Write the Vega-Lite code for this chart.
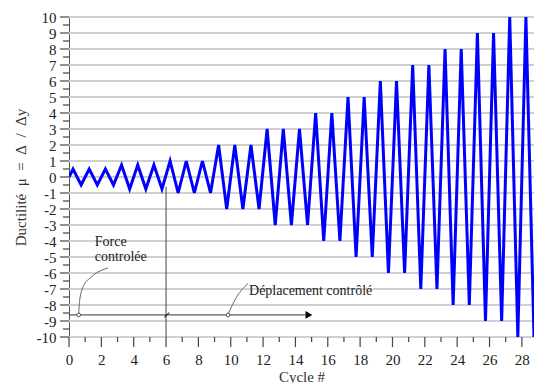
{
  "$schema": "https://vega.github.io/schema/vega-lite/v6.json",
  "width": 465,
  "height": 320,
  "autosize": {"type": "none"},
  "padding": {"left": 69, "top": 17, "right": 0, "bottom": 46},
  "background": "white",
  "config": {
    "view": {"stroke": null},
    "font": "Liberation Serif",
    "axis": {
      "labelFont": "Liberation Serif",
      "titleFont": "Liberation Serif",
      "labelFontSize": 15,
      "titleFontSize": 15,
      "titleFontWeight": "normal",
      "labelColor": "#222",
      "titleColor": "#333"
    }
  },
  "resolve": {"axis": {"x": "independent", "y": "independent"}},
  "datasets": {
    "protocol": [
      {"cycle": 0, "mu": 0},
      {"cycle": 0.25, "mu": 0.5}, {"cycle": 0.75, "mu": -0.5},
      {"cycle": 1.25, "mu": 0.5}, {"cycle": 1.75, "mu": -0.5},
      {"cycle": 2.25, "mu": 0.5}, {"cycle": 2.75, "mu": -0.5},
      {"cycle": 3.25, "mu": 0.75}, {"cycle": 3.75, "mu": -0.75},
      {"cycle": 4.25, "mu": 0.75}, {"cycle": 4.75, "mu": -0.75},
      {"cycle": 5.25, "mu": 0.75}, {"cycle": 5.75, "mu": -0.75},
      {"cycle": 6.25, "mu": 1}, {"cycle": 6.75, "mu": -1},
      {"cycle": 7.25, "mu": 1}, {"cycle": 7.75, "mu": -1},
      {"cycle": 8.25, "mu": 1}, {"cycle": 8.75, "mu": -1},
      {"cycle": 9.25, "mu": 2}, {"cycle": 9.75, "mu": -2},
      {"cycle": 10.25, "mu": 2}, {"cycle": 10.75, "mu": -2},
      {"cycle": 11.25, "mu": 2}, {"cycle": 11.75, "mu": -2},
      {"cycle": 12.25, "mu": 3}, {"cycle": 12.75, "mu": -3},
      {"cycle": 13.25, "mu": 3}, {"cycle": 13.75, "mu": -3},
      {"cycle": 14.25, "mu": 3}, {"cycle": 14.75, "mu": -3},
      {"cycle": 15.25, "mu": 4}, {"cycle": 15.75, "mu": -4},
      {"cycle": 16.25, "mu": 4}, {"cycle": 16.75, "mu": -4},
      {"cycle": 17.25, "mu": 5}, {"cycle": 17.75, "mu": -5},
      {"cycle": 18.25, "mu": 5}, {"cycle": 18.75, "mu": -5},
      {"cycle": 19.25, "mu": 6}, {"cycle": 19.75, "mu": -6},
      {"cycle": 20.25, "mu": 6}, {"cycle": 20.75, "mu": -6},
      {"cycle": 21.25, "mu": 7}, {"cycle": 21.75, "mu": -7},
      {"cycle": 22.25, "mu": 7}, {"cycle": 22.75, "mu": -7},
      {"cycle": 23.25, "mu": 8}, {"cycle": 23.75, "mu": -8},
      {"cycle": 24.25, "mu": 8}, {"cycle": 24.75, "mu": -8},
      {"cycle": 25.25, "mu": 9}, {"cycle": 25.75, "mu": -9},
      {"cycle": 26.25, "mu": 9}, {"cycle": 26.75, "mu": -9},
      {"cycle": 27.25, "mu": 10}, {"cycle": 27.75, "mu": -10},
      {"cycle": 28.25, "mu": 10}, {"cycle": 28.75, "mu": -10},
      {"cycle": 29, "mu": 0}
    ],
    "yMajor": [
      {"mu": -10}, {"mu": -9}, {"mu": -8}, {"mu": -7}, {"mu": -6}, {"mu": -5}, {"mu": -4},
      {"mu": -3}, {"mu": -2}, {"mu": -1}, {"mu": 0}, {"mu": 1}, {"mu": 2}, {"mu": 3},
      {"mu": 4}, {"mu": 5}, {"mu": 6}, {"mu": 7}, {"mu": 8}, {"mu": 9}, {"mu": 10}
    ],
    "yMinor": [
      {"mu": -9.5}, {"mu": -8.5}, {"mu": -7.5}, {"mu": -6.5}, {"mu": -5.5}, {"mu": -4.5}, {"mu": -3.5},
      {"mu": -2.5}, {"mu": -1.5}, {"mu": -0.5}, {"mu": 0.5}, {"mu": 1.5}, {"mu": 2.5}, {"mu": 3.5},
      {"mu": 4.5}, {"mu": 5.5}, {"mu": 6.5}, {"mu": 7.5}, {"mu": 8.5}, {"mu": 9.5}
    ],
    "xMajor": [
      {"cycle": 0}, {"cycle": 2}, {"cycle": 4}, {"cycle": 6}, {"cycle": 8}, {"cycle": 10}, {"cycle": 12},
      {"cycle": 14}, {"cycle": 16}, {"cycle": 18}, {"cycle": 20}, {"cycle": 22}, {"cycle": 24},
      {"cycle": 26}, {"cycle": 28}
    ],
    "xMinor": [
      {"cycle": 1}, {"cycle": 3}, {"cycle": 5}, {"cycle": 7}, {"cycle": 9}, {"cycle": 11}, {"cycle": 13},
      {"cycle": 15}, {"cycle": 17}, {"cycle": 19}, {"cycle": 21}, {"cycle": 23}, {"cycle": 25}, {"cycle": 27}
    ],
    "leaders": [
      {"id": "force", "k": 0, "cycle": 0.6, "mu": -8.55},
      {"id": "force", "k": 1, "cycle": 0.66, "mu": -7.7},
      {"id": "force", "k": 2, "cycle": 0.87, "mu": -6.87},
      {"id": "force", "k": 3, "cycle": 1.38, "mu": -6.25},
      {"id": "force", "k": 4, "cycle": 2.0, "mu": -5.83},
      {"id": "force", "k": 5, "cycle": 2.41, "mu": -5.69},
      {"id": "depl", "k": 0, "cycle": 9.85, "mu": -8.55},
      {"id": "depl", "k": 1, "cycle": 9.96, "mu": -8.3},
      {"id": "depl", "k": 2, "cycle": 10.25, "mu": -7.7},
      {"id": "depl", "k": 3, "cycle": 10.66, "mu": -7.08},
      {"id": "depl", "k": 4, "cycle": 11.07, "mu": -6.66}
    ],
    "anchors": [
      {"cycle": 0.6, "mu": -8.62},
      {"cycle": 9.83, "mu": -8.62}
    ],
    "labels": [
      {"cycle": 1.59, "mu": -4.3, "text": "Force"},
      {"cycle": 1.59, "mu": -5.22, "text": "controlée"},
      {"cycle": 11.13, "mu": -7.4, "text": "Déplacement contrôlé"}
    ]
  },
  "layer": [
    {
      "data": {"name": "yMajor"},
      "mark": {"type": "rule", "color": "#d0d0d0", "strokeWidth": 2},
      "encoding": {
        "y": {
          "field": "mu",
          "type": "quantitative",
          "scale": {"domain": [-10, 10], "nice": false},
          "axis": null
        }
      }
    },
    {
      "data": {"name": "protocol"},
      "mark": {"type": "line", "color": "#0000ff", "strokeWidth": 3, "clip": true},
      "encoding": {
        "x": {
          "field": "cycle",
          "type": "quantitative",
          "scale": {"domain": [0, 28.75], "nice": false, "zero": false},
          "axis": {
            "title": "Cycle #",
            "values": [0,2,4,6,8,10,12,14,16,18,20,22,24,26,28],
            "labelExpr": "'' + datum.value",
            "labelOverlap": false,
            "labelFlush": false,
            "ticks": true,
            "tickSize": 10,
            "tickOpacity": 0,
            "domain": true,
            "domainColor": "#555",
            "domainWidth": 1,
            "labelPadding": 5,
            "titlePadding": 2,
            "grid": false
          }
        },
        "y": {
          "field": "mu",
          "type": "quantitative",
          "axis": {
            "title": "Ductilité\u00a0\u00a0μ\u00a0\u00a0=\u00a0\u00a0Δ\u00a0\u00a0/\u00a0\u00a0Δy",
            "values": [-10,-9,-8,-7,-6,-5,-4,-3,-2,-1,0,1,2,3,4,5,6,7,8,9,10],
            "labelExpr": "'' + datum.value",
            "labelOverlap": false,
            "labelFlush": false,
            "ticks": true,
            "tickSize": 9,
            "tickOpacity": 0,
            "domain": true,
            "domainColor": "#555",
            "domainWidth": 1,
            "labelPadding": 4,
            "titlePadding": 8,
            "grid": false
          }
        }
      }
    },
    {
      "data": {"name": "yMajor"},
      "mark": {"type": "tick", "orient": "horizontal", "size": 9, "thickness": 1.2, "xOffset": -4.5, "color": "#444", "opacity": 1},
      "encoding": {
        "x": {"datum": 0, "type": "quantitative", "axis": null},
        "y": {"field": "mu", "type": "quantitative", "axis": null}
      }
    },
    {
      "data": {"name": "yMinor"},
      "mark": {"type": "tick", "orient": "horizontal", "size": 6, "thickness": 1.2, "xOffset": -3, "color": "#444", "opacity": 1},
      "encoding": {
        "x": {"datum": 0, "type": "quantitative", "axis": null},
        "y": {"field": "mu", "type": "quantitative", "axis": null}
      }
    },
    {
      "data": {"name": "xMajor"},
      "mark": {"type": "tick", "orient": "vertical", "size": 10, "thickness": 1.2, "yOffset": 5, "color": "#444", "opacity": 1},
      "encoding": {
        "x": {"field": "cycle", "type": "quantitative", "axis": null},
        "y": {"datum": -10, "type": "quantitative", "axis": null}
      }
    },
    {
      "data": {"name": "xMinor"},
      "mark": {"type": "tick", "orient": "vertical", "size": 5, "thickness": 1.2, "yOffset": 2.5, "color": "#444", "opacity": 1},
      "encoding": {
        "x": {"field": "cycle", "type": "quantitative", "axis": null},
        "y": {"datum": -10, "type": "quantitative", "axis": null}
      }
    },
    {
      "data": {"values": [{"cycle": 6, "mu": -0.6, "mu2": -10}]},
      "mark": {"type": "rule", "color": "#444", "strokeWidth": 1},
      "encoding": {
        "x": {"field": "cycle", "type": "quantitative", "axis": null},
        "y": {"field": "mu", "type": "quantitative", "axis": null},
        "y2": {"field": "mu2"}
      }
    },
    {
      "data": {"values": [{"cycle": 0, "cycle2": 14.6, "mu": -8.62}]},
      "mark": {"type": "rule", "color": "#333", "strokeWidth": 1},
      "encoding": {
        "x": {"field": "cycle", "type": "quantitative", "axis": null},
        "x2": {"field": "cycle2"},
        "y": {"field": "mu", "type": "quantitative", "axis": null}
      }
    },
    {
      "data": {"values": [{"cycle": 14.83, "mu": -8.62}]},
      "mark": {"type": "point", "shape": "triangle-right", "filled": true, "color": "#000", "size": 60, "opacity": 1},
      "encoding": {
        "x": {"field": "cycle", "type": "quantitative", "axis": null},
        "y": {"field": "mu", "type": "quantitative", "axis": null}
      }
    },
    {
      "data": {"values": [{"cycle": 6.05, "mu": -8.62}]},
      "mark": {"type": "point", "shape": "M -1 1 L 1 -1", "filled": false, "color": "#333", "size": 22, "strokeWidth": 1.2, "opacity": 1},
      "encoding": {
        "x": {"field": "cycle", "type": "quantitative", "axis": null},
        "y": {"field": "mu", "type": "quantitative", "axis": null}
      }
    },
    {
      "data": {"name": "leaders"},
      "mark": {"type": "line", "color": "#666", "strokeWidth": 1, "interpolate": "monotone"},
      "encoding": {
        "x": {"field": "cycle", "type": "quantitative", "axis": null},
        "y": {"field": "mu", "type": "quantitative", "axis": null},
        "detail": {"field": "id"},
        "order": {"field": "k", "type": "quantitative"}
      }
    },
    {
      "data": {"name": "anchors"},
      "mark": {"type": "point", "filled": true, "fill": "white", "stroke": "#555", "strokeWidth": 1, "size": 14, "opacity": 1},
      "encoding": {
        "x": {"field": "cycle", "type": "quantitative", "axis": null},
        "y": {"field": "mu", "type": "quantitative", "axis": null}
      }
    },
    {
      "data": {"name": "labels"},
      "mark": {"type": "text", "font": "Liberation Serif", "fontSize": 14, "color": "#222", "align": "left", "baseline": "alphabetic"},
      "encoding": {
        "x": {"field": "cycle", "type": "quantitative", "axis": null},
        "y": {"field": "mu", "type": "quantitative", "axis": null},
        "text": {"field": "text"}
      }
    }
  ]
}
